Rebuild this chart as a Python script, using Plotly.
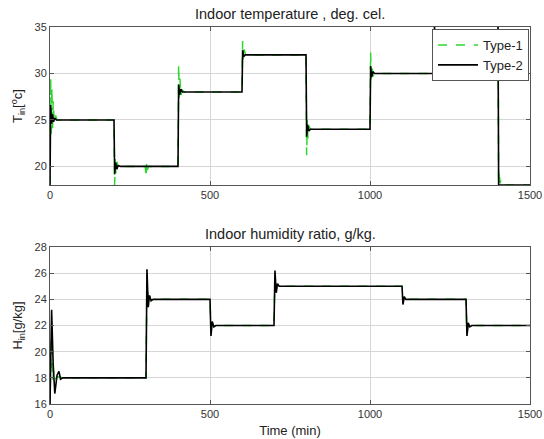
import plotly.graph_objects as go

# ---- Data ----
temp_t1_time = [0, 2, 4, 6, 8, 10, 13, 17, 22, 200, 202, 204, 206, 209, 213, 220, 298, 300, 302, 304, 308,
                400, 402, 404, 406, 409, 413, 420, 600, 602, 604, 607, 611, 800, 802, 804, 806, 809, 814,
                1000, 1002, 1004, 1006, 1009, 1014, 1200, 1202, 1400, 1402, 1404, 1406, 1410, 1416, 1500]
temp_t1 = [18, 29.5, 23.5, 28.5, 24, 27, 24.8, 25.5, 25, 25, 18, 21, 19.2, 20.5, 19.8, 20, 20, 18.8, 20.5, 19.6, 20,
           20, 31, 27, 29.5, 27.6, 28.2, 28, 28, 33.5, 31.4, 32.6, 32, 32, 21.2, 25, 23, 24.4, 24,
           24, 32.3, 29, 31, 29.7, 30, 30, 36, 36, 17.9, 19.5, 18.2, 18.6, 18, 18]

temp_t2_time = [0, 2, 5, 8, 11, 15, 20, 200, 202, 205, 209, 213, 220, 400, 402, 405, 409, 414,
                600, 602, 605, 610, 800, 802, 805, 809, 814, 1000, 1002, 1005, 1009, 1014,
                1200, 1202, 1400, 1402, 1500]
temp_t2 = [18, 26.6, 24.6, 25.6, 24.8, 25.2, 25, 25, 19.2, 20.4, 19.7, 20.1, 20, 20, 28.8, 27.7, 28.3, 28,
           28, 32.5, 31.8, 32, 32, 23.2, 24.5, 23.8, 24, 24, 30.8, 29.6, 30.2, 30,
           30, 36, 36, 18, 18]

hum_t1_time = [0, 4, 8, 12, 18, 26, 40, 300, 303, 307, 311, 316, 322, 500, 503, 507, 512, 518,
               700, 703, 706, 710, 716, 1100, 1103, 1107, 1112, 1300, 1303, 1307, 1312, 1318, 1500]
hum_t1 = [16, 21, 17.8, 18.6, 17.9, 18.1, 18, 18, 26.0, 23.6, 24.2, 23.9, 24, 24, 21.4, 22.2, 21.9, 22,
          22, 25.8, 24.8, 25.1, 25, 25, 23.7, 24.1, 24, 24, 21.4, 22.1, 21.95, 22, 22]

hum_t2_time = [0, 5, 10, 15, 22, 28, 33, 40, 300, 303, 307, 311, 316, 322, 500, 503, 507, 512, 518,
               700, 703, 707, 711, 716, 1100, 1103, 1107, 1112, 1300, 1303, 1307, 1312, 1318, 1500]
hum_t2 = [16, 23.2, 19, 16.8, 18.2, 18.5, 17.9, 18, 18, 26.3, 23.4, 24.3, 23.9, 24, 24, 21.2, 22.3, 21.9, 22,
          22, 26.2, 24.5, 25.2, 25, 25, 23.6, 24.2, 24, 24, 21.2, 22.2, 21.9, 22, 22]

x_ticks = [0, 500, 1000, 1500]
temp_ticks = [20, 25, 30, 35]
hum_ticks = [16, 18, 20, 22, 24, 26, 28]

GREEN = "#2fd62f"
FONT = "Liberation Sans, Arial, sans-serif"

fig = go.Figure()
fig.add_trace(go.Scatter(x=temp_t1_time, y=temp_t1, mode="lines", name="Type-1",
                         line=dict(color=GREEN, width=1.5, dash="dash"), xaxis="x", yaxis="y"))
fig.add_trace(go.Scatter(x=temp_t2_time, y=temp_t2, mode="lines", name="Type-2",
                         line=dict(color="black", width=1.6), xaxis="x", yaxis="y"))
fig.add_trace(go.Scatter(x=hum_t1_time, y=hum_t1, mode="lines", name="Type-1", showlegend=False,
                         line=dict(color=GREEN, width=1.5, dash="dash"), xaxis="x2", yaxis="y2"))
fig.add_trace(go.Scatter(x=hum_t2_time, y=hum_t2, mode="lines", name="Type-2", showlegend=False,
                         line=dict(color="black", width=1.6), xaxis="x2", yaxis="y2"))

W, H = 544, 439
def px(x):
    return x / W
def py(y):
    return 1 - y / H

xdom = [px(50), px(530)]
ax_common = dict(showline=True, linecolor="#555", linewidth=1, mirror="allticks", ticks="inside",
                 ticklen=4, tickcolor="#555", showgrid=True, gridcolor="#d6d6d6", gridwidth=1,
                 zeroline=False, tickfont=dict(size=11, color="#333", family=FONT), automargin=False)

fig.update_layout(
    width=W, height=H, margin=dict(l=0, r=0, t=0, b=0),
    paper_bgcolor="white", plot_bgcolor="white",
    font=dict(family=FONT, color="#222"),
    xaxis=dict(domain=xdom, anchor="y", range=[0, 1500], tickvals=x_ticks, **ax_common),
    yaxis=dict(domain=[py(185), py(27)], anchor="x", range=[18, 35], tickvals=temp_ticks,
               title=dict(text="T<sub>in</sub>[<sup>o</sup>c]", font=dict(size=13, family=FONT), standoff=8),
               **ax_common),
    xaxis2=dict(domain=xdom, anchor="y2", range=[0, 1500], tickvals=x_ticks,
                title=dict(text="Time (min)", font=dict(size=13, family=FONT), standoff=6), **ax_common),
    yaxis2=dict(domain=[py(404), py(247)], anchor="x2", range=[16, 28], tickvals=hum_ticks,
                title=dict(text="H<sub>in</sub>[g/kg]", font=dict(size=13, family=FONT), standoff=8),
                **ax_common),
    legend=dict(x=px(529), y=py(29), xanchor="right", yanchor="top", bgcolor="white",
                bordercolor="#555", borderwidth=1, font=dict(size=13, family=FONT),
                tracegroupgap=0, itemwidth=40),
    annotations=[
        dict(text="Indoor temperature , deg. cel.", x=px(290), y=py(14), xref="paper", yref="paper",
             showarrow=False, font=dict(size=14.5, family=FONT, color="#222"), xanchor="center", yanchor="middle"),
        dict(text="Indoor humidity ratio, g/kg.", x=px(290), y=py(234), xref="paper", yref="paper",
             showarrow=False, font=dict(size=14.5, family=FONT, color="#222"), xanchor="center", yanchor="middle"),
    ],
)

fig.write_html("out.html", config={"displayModeBar": False},
               post_script="document.body.style.margin='0';document.documentElement.style.overflow='hidden';")
